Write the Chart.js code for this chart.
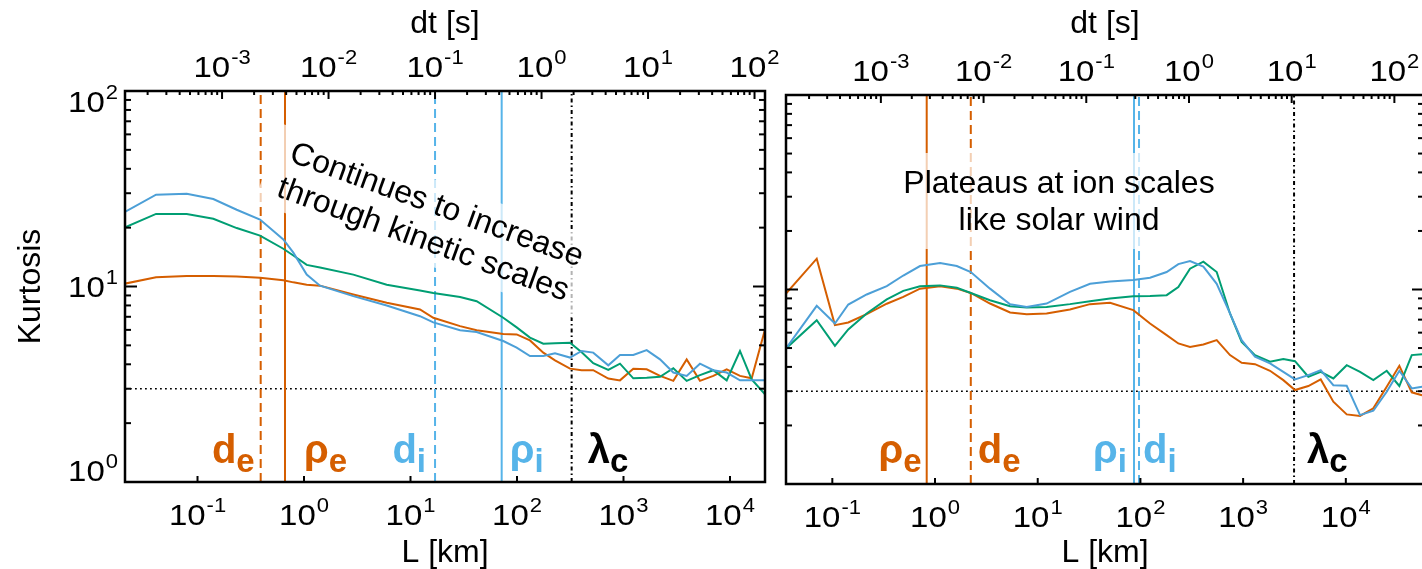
<!DOCTYPE html>
<html>
<head>
<meta charset="utf-8">
<title>Kurtosis vs scale</title>
<script src="https://cdn.jsdelivr.net/npm/chart.js@4.4.1/dist/chart.umd.min.js"></script>
<style>
  html, body { margin: 0; padding: 0; background: #fff; overflow: hidden; }
  body { width: 1422px; height: 569px; position: relative; }
  canvas { position: absolute; top: 0; }
</style>
</head>
<body>
<canvas id="leftPanel" width="780" height="569" style="left:0"></canvas>
<canvas id="rightPanel" width="680" height="569" style="left:770px"></canvas>
<script>
const FONT = '"Liberation Sans", Arial, Helvetica, sans-serif';
const ORANGE = "#D55E00";
const BLUE = "#56B4E9";
const BLUE_CURVE = "#4C9FD7";
const GREEN = "#009E73";

// left panel: lag L [km] and kurtosis of the three series
const leftL = [0.0201, 0.0408, 0.0792, 0.1407, 0.2334, 0.3863, 0.6394, 0.794, 1.06, 1.413,
  2.904, 5.98, 12.28, 16.37, 29.2, 41.8, 74.3, 99.3, 132.4, 176.6,
  227.5, 314.5, 405, 520, 720, 927, 1236, 1651, 2203, 2937,
  3920, 5227, 6970, 9310, 12410, 15990, 21320];
const leftBlue = [23.8, 29.5, 29.8, 28.0, 24.7, 22.0, 17.4, 14.9, 11.5, 10.1,
  8.93, 8.0, 7.05, 6.55, 5.97, 5.85, 5.26, 4.87, 4.41, 4.41,
  4.55, 4.33, 4.68, 4.59, 3.95, 4.46, 4.46, 4.73, 4.24, 3.63,
  3.49, 4.03, 3.73, 3.63, 3.31, 3.31, 3.31];
const leftGreen = [19.9, 23.5, 23.5, 22.2, 19.9, 18.2, 15.6, 14.4, 12.9, 12.5,
  11.5, 10.2, 9.54, 9.27, 8.84, 8.41, 6.92, 6.18, 5.48, 5.10,
  5.12, 5.16, 4.61, 4.05, 3.74, 4.03, 3.39, 3.41, 3.45, 3.82,
  3.29, 3.52, 3.73, 3.31, 4.68, 3.35, 2.81];
const leftOrange = [10.3, 11.15, 11.3, 11.3, 11.25, 11.07, 10.77, 10.5, 10.2, 10.1,
  9.1, 8.26, 7.63, 6.92, 6.27, 5.97, 5.72, 5.69, 5.3, 4.59,
  4.19, 3.80, 3.73, 3.73, 3.38, 3.31, 3.80, 3.77, 3.49, 3.29,
  4.24, 3.29, 3.49, 3.77, 3.49, 3.39, 6.03];
const leftScaleValues = [0.392, 0.663, 17.0, 71.8, 326];
const leftScaleMain = ["d", "ρ", "d", "ρ", "λ"];
const leftScaleSub = ["e", "e", "i", "i", "c"];

// right panel
const rightL = [0.0354, 0.0705, 0.106, 0.143, 0.216, 0.339, 0.491, 0.714, 1.12, 1.63,
  2.23, 3.43, 5.38, 7.81, 12.2, 20.6, 32.3, 50.6, 85.3, 124,
  180, 234, 304, 410, 553, 745, 968, 1305, 1828, 2463,
  3200, 4313, 5697, 7558, 10200, 13750, 18530, 25010, 33200, 43840,
  55200];
const rightBlue = [4.98, 8.24, 6.69, 8.37, 9.43, 10.4, 11.8, 13.2, 13.7, 13.2,
  12.3, 10.1, 8.4, 8.14, 8.47, 9.72, 10.7, 11.0, 11.2, 11.5,
  12.3, 13.5, 14.0, 13.1, 10.7, 7.53, 5.49, 4.51, 4.17, 3.77,
  3.45, 3.63, 3.85, 3.22, 3.20, 2.26, 2.38, 2.98, 3.82, 3.10,
  3.16];
const rightGreen = [4.98, 6.95, 5.13, 6.23, 7.53, 8.89, 9.84, 10.4, 10.5, 10.2,
  9.6, 8.81, 8.2, 8.08, 8.14, 8.41, 8.71, 8.99, 9.24, 9.27,
  9.35, 10.3, 12.8, 13.9, 12.3, 7.53, 5.38, 4.60, 4.25, 4.39,
  4.28, 3.56, 3.77, 3.49, 4.08, 3.77, 3.42, 3.82, 3.19, 4.60,
  4.65];
const rightOrange = [9.54, 14.4, 6.56, 6.77, 7.47, 8.45, 9.16, 10.1, 10.4, 10.1,
  9.6, 8.47, 7.62, 7.47, 7.53, 7.89, 8.41, 8.54, 7.83, 6.69,
  5.83, 5.28, 5.07, 5.22, 5.49, 4.60, 4.20, 4.13, 3.82, 3.42,
  3.04, 3.19, 3.45, 2.65, 2.28, 2.24, 2.45, 3.16, 4.05, 2.96,
  2.86];
const rightScaleValues = [0.83, 2.23, 86.6, 96.9, 3133];
const rightScaleMain = ["ρ", "d", "ρ", "d", "λ"];
const rightScaleSub = ["e", "e", "i", "i", "c"];

// axes
const yTicks = [1, 10, 100];
const xTicks = [0.1, 1, 10, 100, 1000, 10000];
const dtTicks = [0.001, 0.01, 0.1, 1, 10, 100];
const gaussianK = 3;
const leftSpeed = 170;   // km/s, L = v * dt
const rightSpeed = 297;

// "10" with a raised exponent, slightly widened like the original lettering
function pow10(ctx, exp, x, base, align) {
  const wide = 1.1;
  ctx.font = "30px " + FONT;
  const wb = ctx.measureText("10").width * wide;
  ctx.font = "20px " + FONT;
  const we = ctx.measureText(String(exp)).width * wide;
  const total = wb + 1 + we;
  let x0 = x;
  if (align === "center") x0 = x - total / 2;
  if (align === "right") x0 = x - total;
  ctx.save();
  ctx.translate(x0, base);
  ctx.scale(wide, 1);
  ctx.textAlign = "left";
  ctx.font = "30px " + FONT;
  ctx.fillText("10", 0, 0);
  ctx.font = "20px " + FONT;
  ctx.fillText(String(exp), (wb + 1) / wide, -13);
  ctx.restore();
}

function scaleLabel(ctx, main, sub, color, px, side, gap, base) {
  ctx.fillStyle = color;
  ctx.textAlign = "left";
  ctx.font = "bold 40px " + FONT;
  const wm = ctx.measureText(main).width;
  ctx.font = "bold 33px " + FONT;
  const ws = ctx.measureText(sub).width;
  const x0 = side === "left" ? px - gap - wm - ws : px + gap;
  ctx.font = "bold 40px " + FONT;
  ctx.fillText(main, x0, base);
  ctx.font = "bold 33px " + FONT;
  ctx.fillText(sub, x0 + wm, base + 9);
}

function decor(p) {
  return {
    id: "decor",
    afterDatasetsDraw(chart) {
      const ctx = chart.ctx;
      ctx.save();
      p.note(ctx);
      ctx.restore();
    },
    afterDraw(chart) {
      const { ctx, chartArea: a, scales } = chart;
      const sx = scales.x, sx2 = scales.x2, sy = scales.y;
      const seg = (x1, y1, x2, y2) => {
        ctx.beginPath(); ctx.moveTo(x1, y1); ctx.lineTo(x2, y2); ctx.stroke();
      };
      ctx.save();
      ctx.strokeStyle = "#000";
      ctx.lineWidth = 2;
      // y ticks, both sides, pointing in
      for (let e = 0; e < 2; e++) {
        for (let m = 1; m < 10; m++) {
          const py = sy.getPixelForValue(m * Math.pow(10, e));
          const len = m === 1 ? 12 : 6;
          seg(a.left, py, a.left + len, py);
          seg(a.right, py, a.right - len, py);
        }
      }
      // bottom: majors only
      xTicks.forEach(v => {
        if (v < sx.min || v > sx.max) return;
        const px = sx.getPixelForValue(v);
        seg(px, a.bottom, px, a.bottom - 6);
      });
      // top dt axis: majors and minors
      for (let e = -5; e <= 3; e++) {
        for (let m = 1; m < 10; m++) {
          const v = m * Math.pow(10, e);
          if (v < sx2.min || v > sx2.max) continue;
          const px = sx2.getPixelForValue(v);
          seg(px, a.top, px, a.top + (m === 1 ? 8 : 4));
        }
      }
      ctx.lineWidth = 2.5;
      ctx.strokeRect(a.left, a.top, a.right - a.left, a.bottom - a.top);

      // tick labels
      ctx.fillStyle = "#000";
      ctx.textBaseline = "alphabetic";
      xTicks.forEach(v => {
        if (v < sx.min || v > sx.max) return;
        pow10(ctx, Math.round(Math.log10(v)), sx.getPixelForValue(v), a.bottom + 43, "center");
      });
      dtTicks.forEach(v => {
        if (v < sx2.min || v > sx2.max) return;
        pow10(ctx, Math.round(Math.log10(v)), sx2.getPixelForValue(v), a.top - 14, "center");
      });
      if (p.yLabels) {
        yTicks.forEach(v => {
          const py = sy.getPixelForValue(v);
          const base = Math.min(Math.max(py + 10.5, a.top + 21), a.bottom - 1);
          pow10(ctx, Math.round(Math.log10(v)), a.left - 7, base, "right");
        });
      }

      // axis titles
      ctx.font = "32px " + FONT;
      ctx.textAlign = "center";
      const cx = (a.left + a.right) / 2;
      ctx.fillText("L [km]", cx, 562);
      ctx.fillText("dt [s]", cx, 33);
      if (p.yTitle) {
        ctx.save();
        ctx.translate(40, (a.top + a.bottom) / 2);
        ctx.rotate(-Math.PI / 2);
        ctx.fillText("Kurtosis", 0, 0);
        ctx.restore();
      }

      // characteristic scale labels
      p.values.forEach((v, i) => {
        const px = sx.getPixelForValue(v);
        scaleLabel(ctx, p.main[i], p.sub[i], p.colors[i], px, p.sides[i], p.gaps[i], 463);
      });
      ctx.restore();
    }
  };
}

function makePanel(id, p) {
  const curve = (xs, ys, color) => ({
    data: xs.map((x, i) => ({ x: x, y: ys[i] })),
    borderColor: color,
    borderWidth: 2,
    pointRadius: 0,
    tension: 0
  });
  const datasets = [
    curve(p.L, p.blue, BLUE_CURVE),
    curve(p.L, p.green, GREEN),
    curve(p.L, p.orange, ORANGE)
  ];
  p.values.forEach((v, i) => {
    datasets.push({
      data: [{ x: v, y: 1 }, { x: v, y: 100 }],
      borderColor: p.colors[i],
      borderWidth: 2,
      borderDash: p.dashes[i],
      pointRadius: 0
    });
  });
  datasets.push({
    data: [{ x: p.xMin, y: gaussianK }, { x: p.xMax, y: gaussianK }],
    borderColor: "#000",
    borderWidth: 1.6,
    borderDash: [1.8, 3.2],
    pointRadius: 0
  });

  new Chart(document.getElementById(id).getContext("2d"), {
    type: "line",
    data: { datasets: datasets },
    options: {
      responsive: false,
      animation: false,
      devicePixelRatio: 1,
      layout: { padding: p.padding },
      plugins: { legend: { display: false }, tooltip: { enabled: false } },
      scales: {
        x: { type: "logarithmic", min: p.xMin, max: p.xMax, display: false },
        x2: { type: "logarithmic", position: "top", min: p.xMin / p.speed, max: p.xMax / p.speed, display: false },
        y: { type: "logarithmic", min: 1, max: 100, display: false }
      }
    },
    plugins: [decor(p)]
  });
}

const DASH = [9, 5];
const SOLID = [];
const DASHDOT = [4, 3, 1.5, 3];

makePanel("leftPanel", {
  L: leftL, blue: leftBlue, green: leftGreen, orange: leftOrange,
  values: leftScaleValues, main: leftScaleMain, sub: leftScaleSub,
  colors: [ORANGE, ORANGE, BLUE, BLUE, "#000"],
  dashes: [DASH, SOLID, DASH, SOLID, DASHDOT],
  sides: ["left", "right", "left", "right", "right"],
  gaps: [6, 19, 9, 8, 16],
  xMin: 0.02085, xMax: 21320, speed: leftSpeed,
  padding: { left: 125, right: 15, top: 91, bottom: 87 },
  yLabels: true, yTitle: true,
  note(ctx) {
    ctx.translate(288, 161);
    ctx.rotate(20 * Math.PI / 180);
    ctx.fillStyle = "rgba(255,255,255,0.7)";
    ctx.fillRect(-18, -33, 343, 83);
    ctx.fillStyle = "#000";
    ctx.font = "32px " + FONT;
    ctx.textAlign = "left";
    ctx.fillText("Continues to increase", 0, 0);
    ctx.fillText("through kinetic scales", 0, 37);
  }
});

makePanel("rightPanel", {
  L: rightL, blue: rightBlue, green: rightGreen, orange: rightOrange,
  values: rightScaleValues, main: rightScaleMain, sub: rightScaleSub,
  colors: [ORANGE, ORANGE, BLUE, BLUE, "#000"],
  dashes: [SOLID, DASH, SOLID, DASH, DASHDOT],
  sides: ["left", "right", "left", "right", "right"],
  gaps: [5, 7, 7, 4, 13],
  xMin: 0.0354, xMax: 57700, speed: rightSpeed,
  padding: { left: 16, right: 26, top: 95, bottom: 85 },
  yLabels: false, yTitle: false,
  note(ctx) {
    ctx.fillStyle = "rgba(255,255,255,0.7)";
    ctx.fillRect(125, 153, 328, 96);
    ctx.fillStyle = "#000";
    ctx.font = "32px " + FONT;
    ctx.textAlign = "center";
    ctx.fillText("Plateaus at ion scales", 289, 193);
    ctx.fillText("like solar wind", 289, 230);
  }
});
</script>
</body>
</html>
